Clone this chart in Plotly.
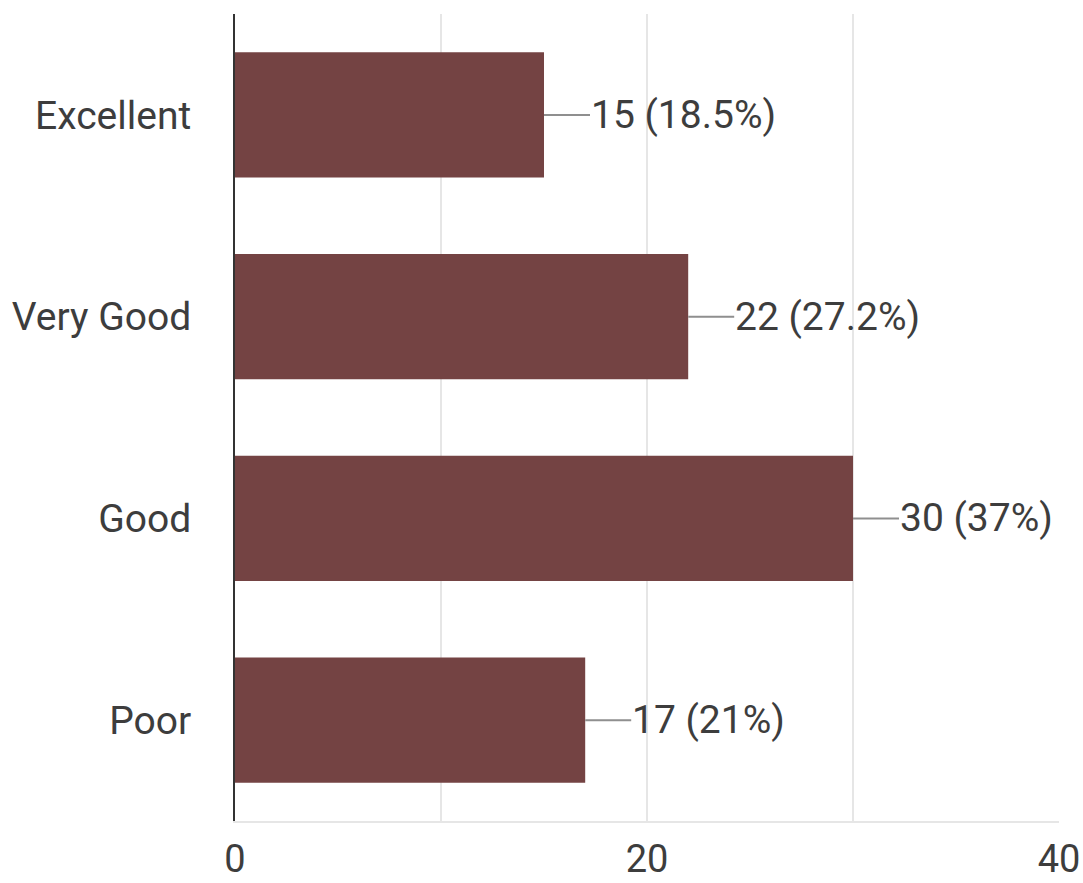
import plotly.graph_objects as go

categories = ["Excellent", "Very Good", "Good", "Poor"]
counts = [15, 22, 30, 17]
percent_labels = ["18.5%", "27.2%", "37%", "21%"]
x_tickvals = [0, 10, 20, 30, 40]
x_ticktext = ["0", "", "20", "", "40"]

bar_color = "#744343"
text_color = "#3d3d3d"
FS = 39

fig = go.Figure()
fig.add_trace(go.Bar(
    x=counts, y=categories, orientation="h",
    marker=dict(color=bar_color, line=dict(width=0)),
    hoverinfo="skip",
))

for c, v, p in zip(categories, counts, percent_labels):
    fig.add_annotation(
        x=v, y=c, xref="x", yref="y",
        text=f"{v} ({p})",
        showarrow=True, arrowhead=0, arrowwidth=2, arrowcolor="#8f8f8f",
        ax=46, ay=0, xanchor="left", borderpad=0,
        font=dict(family="Roboto", size=FS, color=text_color),
    )

fig.update_layout(
    width=1083, height=883,
    margin=dict(l=235, r=24, t=14, b=62),
    paper_bgcolor="white", plot_bgcolor="white",
    bargap=0.38,
    showlegend=False,
    font=dict(family="Roboto", size=FS, color=text_color),
)
fig.update_xaxes(
    range=[0, 40], tickvals=x_tickvals, ticktext=x_ticktext,
    showgrid=True, gridcolor="#e6e6e6", gridwidth=2,
    showline=True, linecolor="#e6e6e6", linewidth=2,
    zeroline=False, ticks="", ticklabelstandoff=3, automargin=False,
    tickfont=dict(family="Roboto", size=FS - 1, color=text_color),
)
fig.update_yaxes(
    categoryorder="array", categoryarray=categories, autorange="reversed",
    showline=True, linecolor="#333333", linewidth=2,
    showgrid=False, ticks="", ticklabelstandoff=34, automargin=False,
    tickfont=dict(family="Roboto", size=FS, color=text_color),
)

fig.write_html(
    "out.html",
    config={"displayModeBar": False},
    post_script="document.body.style.margin='0';document.body.style.overflow='hidden';",
)
